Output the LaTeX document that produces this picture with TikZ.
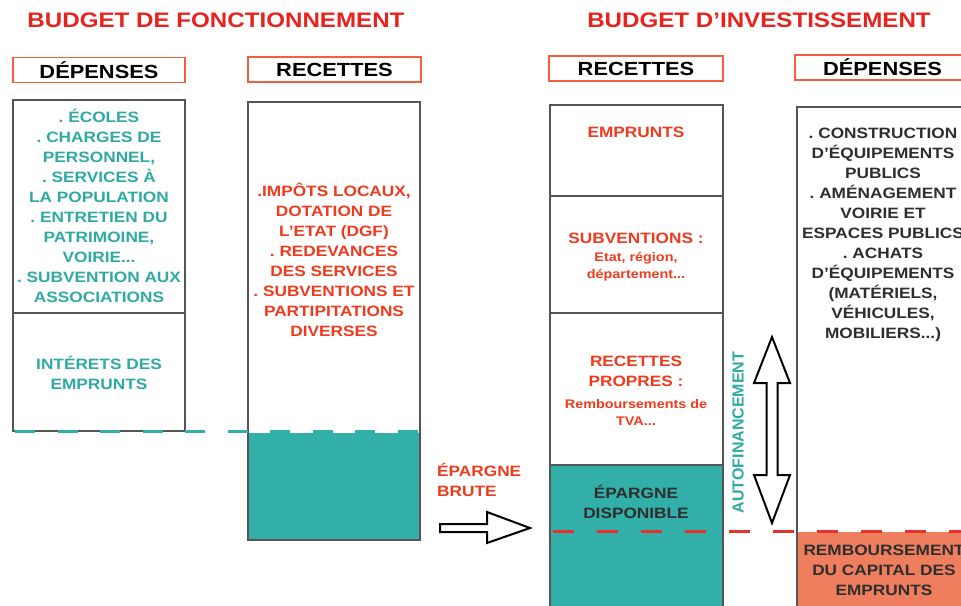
\documentclass[tikz,border=0pt]{standalone}
\usepackage{fontspec}
\newfontfamily\dfont{Liberation Sans}[FakeStretch=1.15]
\newfontfamily\vfont{Liberation Sans}
\frenchspacing
\definecolor{titlered}{HTML}{E8231E}
\definecolor{hdrborder}{HTML}{F0603E}
\definecolor{tealc}{HTML}{32AFA8}
\definecolor{tealtxt}{HTML}{2EAAA2}
\definecolor{redtxt}{HTML}{F03A1E}
\definecolor{salmon}{HTML}{EE7E5E}
\definecolor{boxgray}{HTML}{555555}
\definecolor{darktxt}{HTML}{2E2E2E}
\definecolor{dashred}{HTML}{E8302A}
\begin{document}
\begin{tikzpicture}[x=1pt,y=-1pt,
  title/.style={font=\frenchspacing\dfont\bfseries\fontsize{21}{24}\selectfont, text=titlered, inner sep=0},
  hdr/.style={draw=hdrborder, line width=1.8pt, inner sep=0, font=\dfont\bfseries\fontsize{19}{22}\selectfont, text=black},
  body/.style={font=\frenchspacing\dfont\bfseries\fontsize{15}{20}\selectfont, align=center, inner sep=0},
  small/.style={font=\frenchspacing\dfont\bfseries\fontsize{12.5}{17}\selectfont, align=center, inner sep=0},
  col/.style={draw=boxgray, line width=1.6pt},
  hollow/.style={draw=black, line width=2pt, fill=white, line join=miter},
]
\clip (0,0) rectangle (961,605);
\fill[white] (0,0) rectangle (961,605);

% titles
\node[title] (t1) at (216,20) {BUDGET DE FONCTIONNEMENT};
\node[title] (t2) at (759,20) {BUDGET D’INVESTISSEMENT};

% header boxes
\node[hdr, minimum width=172pt, minimum height=25pt] (h1) at (99,70) {DÉPENSES};
\node[hdr, minimum width=173pt, minimum height=25pt] (h2) at (334.5,69.5) {RECETTES};
\node[hdr, minimum width=174pt, minimum height=25pt] (h3) at (636,68.5) {RECETTES};
\node[hdr, minimum width=175pt, minimum height=25pt] (h4) at (882.5,67.5) {DÉPENSES};

% fills
\fill[tealc] (248,433) rectangle (420,540);
\fill[tealc] (550,465) rectangle (723,610);
\fill[salmon] (797,532) rectangle (970,610);

% left depenses column
\draw[col] (13,100) rectangle (185,431);
\draw[col] (13,313) -- (185,313);
% left recettes column
\draw[col] (248,102) rectangle (420,540);
% right recettes column
\draw[col] (550,105) rectangle (723,620);
\draw[col] (550,196) -- (723,196);
\draw[col] (550,313) -- (723,313);
\draw[col] (550,465) -- (723,465);
% right depenses column
\draw[col] (797,620) -- (797,107) -- (970,107);

% dashed lines
\draw[tealc, line width=3pt, dash pattern=on 20pt off 22.5pt] (15,431.5) -- (420,431.5);
\draw[dashred, line width=3pt, dash pattern=on 21pt off 23pt] (553,531) -- (965,531);

% texts left
\node[body, text=tealtxt] (d1) at (99,206) {. ÉCOLES\\. CHARGES DE\\PERSONNEL,\\. SERVICES À\\LA POPULATION\\. ENTRETIEN DU\\PATRIMOINE,\\VOIRIE...\\. SUBVENTION AUX\\ASSOCIATIONS};
\node[body, text=tealtxt] (d2) at (99,373) {INTÉRETS DES\\EMPRUNTS};
\node[body, text=redtxt] (r1) at (334,260) {.IMPÔTS LOCAUX,\\DOTATION DE\\L’ETAT (DGF)\\. REDEVANCES\\DES SERVICES\\. SUBVENTIONS ET\\PARTIPITATIONS\\DIVERSES};

% texts right recettes
\node[body, text=redtxt] (e1) at (636,132) {EMPRUNTS};
\node[body, text=redtxt] (s1) at (636,238) {SUBVENTIONS :};
\node[small, text=redtxt] (s2) at (636,267) {Etat, région,\\département...};
\node[body, text=redtxt] (p1) at (636,371.5) {RECETTES\\PROPRES :};
\node[small, text=redtxt] (p2) at (636,412) {Remboursements de\\TVA...};
\node[body, text=darktxt] (ed) at (636,502) {ÉPARGNE\\DISPONIBLE};

% right depenses texts
\node[body, text=darktxt] (i1) at (883,235) {. CONSTRUCTION\\D’ÉQUIPEMENTS\\PUBLICS\\. AMÉNAGEMENT\\VOIRIE ET\\ESPACES PUBLICS\\. ACHATS\\D’ÉQUIPEMENTS\\(MATÉRIELS,\\VÉHICULES,\\MOBILIERS...)};
\node[body, text=darktxt] (rb) at (884,570) {REMBOURSEMENT\\DU CAPITAL DES\\EMPRUNTS};

% epargne brute
\node[body, text=redtxt, align=left, anchor=west] (eb) at (437,480) {ÉPARGNE\\BRUTE};

% autofinancement
\node[font=\vfont\bfseries\fontsize{16}{18}\selectfont, text=tealtxt, rotate=90, inner sep=0] (af) at (738,432.5) {AUTOFINANCEMENT};

% hollow right arrow
\draw[hollow] (440,524) -- (487,524) -- (487,512) -- (530,528) -- (487,543) -- (487,532) -- (440,532) -- cycle;

% hollow double arrow
\draw[hollow] (772,337) -- (790,383) -- (777.5,383) -- (777.5,475) -- (790,475) -- (772,523) -- (754,475) -- (766.5,475) -- (766.5,383) -- (754,383) -- cycle;
\end{tikzpicture}
\end{document}
